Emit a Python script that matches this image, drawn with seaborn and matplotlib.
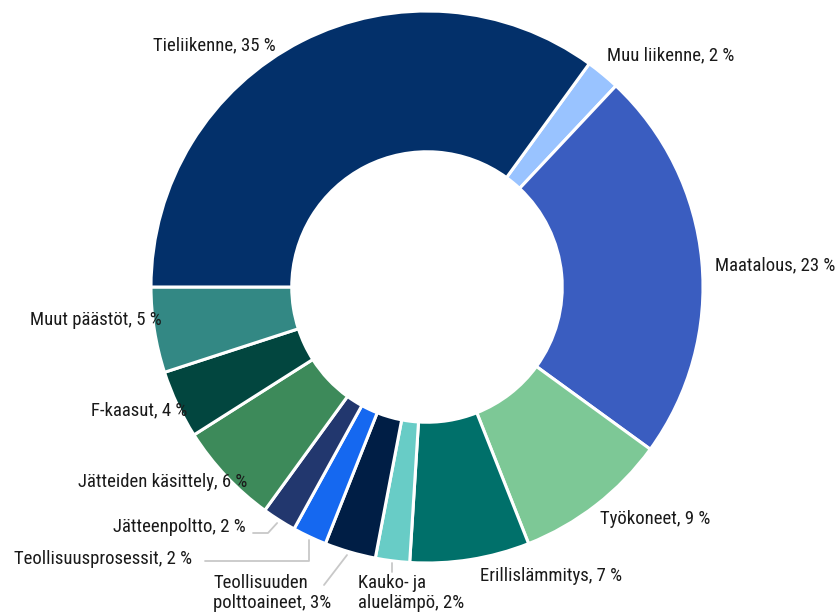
import numpy as np
import matplotlib
matplotlib.use("Agg")
import matplotlib.pyplot as plt
from matplotlib import font_manager
import seaborn as sns

# ---- data (clockwise order, starting after Tieliikenne) ----
categories = ["Muu liikenne", "Maatalous", "Työkoneet", "Erillislämmitys",
              "Kauko- ja\naluelämpö", "Teollisuuden\npolttoaineet",
              "Teollisuusprosessit", "Jätteenpoltto", "Jätteiden käsittely",
              "F-kaasut", "Muut päästöt", "Tieliikenne"]
values = [2, 23, 9, 7, 2, 3, 2, 2, 6, 4, 5, 35]
label_texts = ["Muu liikenne, 2 %", "Maatalous, 23 %", "Työkoneet, 9 %",
               "Erillislämmitys, 7 %", "Kauko- ja\naluelämpö, 2%",
               "Teollisuuden\npolttoaineet, 3%", "Teollisuusprosessit, 2 %",
               "Jätteenpoltto, 2 %", "Jätteiden käsittely, 6 %",
               "F-kaasut, 4 %", "Muut päästöt, 5 %", "Tieliikenne, 35 %"]
colors = ["#99C3FF", "#3A5DC0", "#7DC896", "#00706A", "#68CCC6", "#001E45",
          "#1568F0", "#22376E", "#3D8A5A", "#02463F", "#338884", "#03306A"]

# ---- style ----
sns.set_theme(style="white")
avail = {f.name for f in font_manager.fontManager.ttflist}
fams = [f for f in ["Liberation Sans Narrow", "Roboto Condensed", "Open Sans Condensed",
                    "Liberation Sans", "DejaVu Sans"] if f in avail]
plt.rcParams["font.family"] = fams

W, H = 839, 616
fig = plt.figure(figsize=(W / 100, H / 100), dpi=100)
ax = fig.add_axes([0, 0, 1, 1])

cx, cy, R = 427, H - 287, 276
ring = 0.51
start = 54
wedges, _ = ax.pie(values, colors=colors, startangle=start, counterclock=False,
                   center=(cx, cy), radius=R, frame=True,
                   wedgeprops=dict(width=R * ring, edgecolor="white", linewidth=2.2))
ax.set_xlim(0, W)
ax.set_ylim(0, H)
ax.set_aspect("equal")
ax.axis("off")

# label layout (pixel positions, y from top), horizontal alignment
layout = {
    0: (607, 55, "left"),
    1: (715, 265, "left"),
    2: (600, 519, "left"),
    3: (480, 576, "left"),
    4: (358, 593, "left"),
    5: (213, 593, "left"),
    6: (192, 559, "right"),
    7: (246, 527, "right"),
    8: (247, 482, "right"),
    9: (187, 410, "right"),
    10: (162, 320, "right"),
    11: (276, 45, "right"),
}
fs = 13.5
for i, txt in enumerate(label_texts):
    x, y, ha = layout[i]
    ax.text(x, H - y, txt, ha=ha, va="center", fontsize=fs, color="#1a1a1a",
            linespacing=1.15)

# leader lines for small slices (from label to outer edge at slice mid angle)
def edge_point(i):
    w = wedges[i]
    ang = np.deg2rad((w.theta1 + w.theta2) / 2)
    return cx + R * np.cos(ang), cy + R * np.sin(ang)

lc = "#C8C8C8"
# Jätteenpoltto
ex, ey = edge_point(7)
ax.plot([253, 268, ex - 2], [H - 533, H - 533, ey - 3], color=lc, lw=1.3)
# Teollisuusprosessit
ex, ey = edge_point(6)
ax.plot([205, ex, ex], [H - 561, H - 561, ey - 3], color=lc, lw=1.3)
# Teollisuuden polttoaineet
ex, ey = edge_point(5)
ax.plot([324, ex - 3], [H - 585, ey - 3], color=lc, lw=1.3)
# Kauko- ja aluelämpö
ex, ey = edge_point(4)
ax.plot([ex, ex], [ey - 2, H - 572], color=lc, lw=1.3)

fig.savefig("out.png", dpi=100)
